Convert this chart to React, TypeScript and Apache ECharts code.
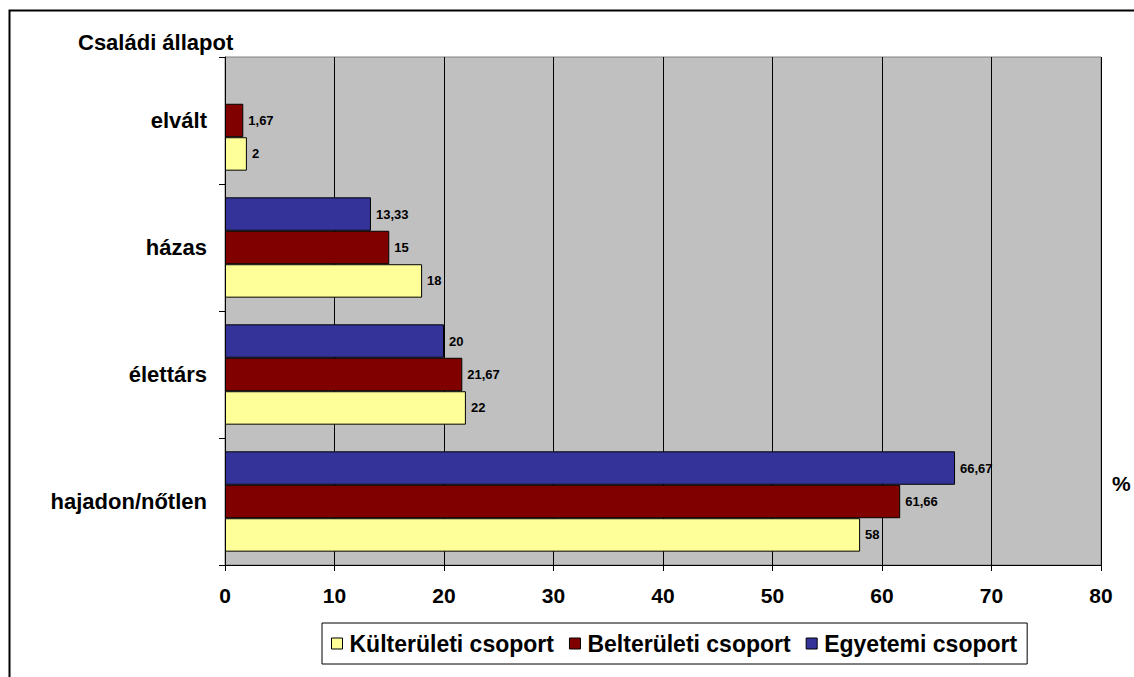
import React, { useEffect, useRef } from "react";
import * as echarts from "echarts";

const categories = ["hajadon/nőtlen", "élettárs", "házas", "elvált"];
const seriesNames = ["Külterületi csoport", "Belterületi csoport", "Egyetemi csoport"];
const kulteruleti = [58, 22, 18, 2];
const belteruleti = [61.66, 21.67, 15, 1.67];
const egyetemi: (number | null)[] = [66.67, 20, 13.33, null];
const colors = ["#FFFF99", "#800000", "#333399"];
const xTicks = { min: 0, max: 80, interval: 10 };

const FONT = "'Liberation Sans', Arial, sans-serif";

export default function App() {
  const ref = useRef<HTMLDivElement>(null);
  useEffect(() => {
    if (!ref.current) return;
    const chart = echarts.init(ref.current, undefined, { renderer: "svg" });
    const dataSets = [kulteruleti, belteruleti, egyetemi];
    // ECharts stacks horizontal bars top-down in series order; reverse so the
    // first legend entry sits at the bottom of each category as in the reference.
    const order = [2, 1, 0];
    chart.setOption({
      animation: false,
      backgroundColor: "#FFFFFF",
      textStyle: { fontFamily: FONT },
      grid: {
        left: 225,
        right: 33,
        top: 57,
        bottom: 112,
        show: true,
        backgroundColor: "#C0C0C0",
        borderColor: "#808080",
        borderWidth: 1,
      },
      graphic: [
        {
          type: "rect",
          shape: { x: 9.5, y: 10.5, width: 1200, height: 800 },
          style: { fill: "none", stroke: "#000", lineWidth: 2 },
          silent: true,
        },
        {
          type: "text",
          left: 78,
          top: 31,
          style: { text: "Családi állapot", font: `bold 22px ${FONT}`, fill: "#000" },
        },
        {
          type: "text",
          left: 1112,
          top: 473,
          style: { text: "%", font: `bold 21px ${FONT}`, fill: "#000" },
        },
      ],
      legend: {
        left: 322,
        top: 623,
        orient: "horizontal",
        data: seriesNames,
        backgroundColor: "#FFFFFF",
        borderColor: "#000",
        borderWidth: 1,
        borderRadius: 0,
        padding: [9, 10, 9, 9],
        itemWidth: 11,
        itemHeight: 11,
        itemGap: 15,
        icon: "rect",
        textStyle: { fontFamily: FONT, fontWeight: "bold", fontSize: 23, color: "#000", padding: [0, 0, 0, 2] },
        itemStyle: { borderColor: "#000", borderWidth: 1 },
      },
      xAxis: {
        type: "value",
        min: xTicks.min,
        max: xTicks.max,
        interval: xTicks.interval,
        axisLine: { show: true, lineStyle: { color: "#000", width: 1 } },
        axisTick: { show: true, length: 6, lineStyle: { color: "#000" } },
        axisLabel: { fontFamily: FONT, fontWeight: "bold", fontSize: 21, color: "#000", margin: 20 },
        splitLine: { show: true, lineStyle: { color: "#000", width: 1 } },
      },
      yAxis: {
        type: "category",
        data: categories,
        axisLine: { show: true, lineStyle: { color: "#000", width: 1 } },
        axisTick: { show: true, length: 6, lineStyle: { color: "#000" } },
        axisLabel: { fontFamily: FONT, fontWeight: "bold", fontSize: 22, color: "#000", margin: 18 },
      },
      series: order.map((i) => ({
        name: seriesNames[i],
        type: "bar",
        data: dataSets[i],
        barGap: "0%",
        barCategoryGap: "21%",
        itemStyle: { color: colors[i], borderColor: "#000", borderWidth: 1 },
        label: {
          show: true,
          position: "right",
          distance: 5,
          fontFamily: FONT,
          fontWeight: "bold",
          fontSize: 13,
          color: "#000",
          formatter: (p: any) => String(p.value).replace(".", ","),
        },
      })),
    });
    return () => chart.dispose();
  }, []);
  return (
    <div
      ref={ref}
      style={{ position: "absolute", left: 0, top: 0, width: 1134, height: 677 }}
    />
  );
}
